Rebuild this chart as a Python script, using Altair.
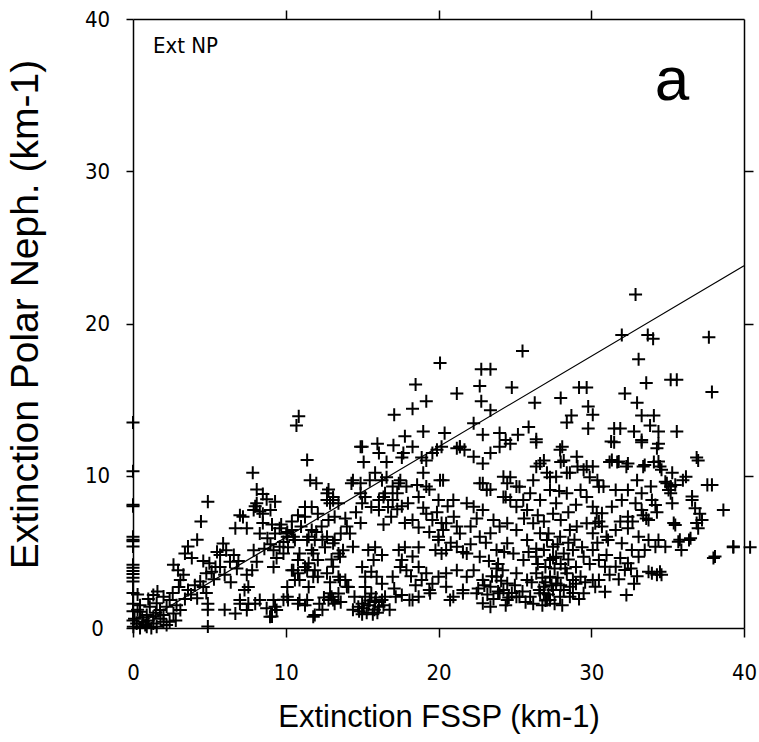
import altair as alt
import pandas as pd

# ---- data (x = Extinction FSSP, y = Extinction Polar Neph.) ----
pts_upper = [(20.1,17.4),(18.5,16.0),(19.2,14.9),(18.3,14.4),(17.1,14.0),(10.85,13.9),(10.7,13.3),(19.0,12.9),
 (32.9,21.9),(32.0,19.25),(33.7,19.25),(34.05,19.0),(37.7,19.1),(33.1,17.65),(25.5,18.2),(22.8,17.0),(23.4,17.0),
 (33.6,16.1),(35.2,16.3),(35.6,16.3),(22.7,15.9),(24.8,15.8),(21.2,15.4),(29.2,15.8),(29.7,15.8),(37.9,15.5),
 (28.0,15.1),(26.3,14.8),(32.2,15.4),(33.0,14.8),(22.8,14.9),(23.4,14.3),(29.8,14.55),(30.1,14.0),(28.7,13.95),
 (28.4,13.5),(33.3,13.95),(34.1,13.95),(22.3,13.45),(29.8,13.1),(31.5,13.1),(31.9,13.1),(31.3,12.25),(32.8,12.9),
 (33.3,12.35),(33.85,13.3),(34.4,12.9),(34.4,12.1),(35.6,12.9),(20.4,12.8),(22.9,12.7),(24.0,12.8),(24.4,12.35),
 (25.2,12.7),(25.9,13.2),(26.4,12.4),(28.1,11.9),(21.4,11.9)]

pts_right = [(37.0,11.0),(37.9,9.4),(38.65,7.75),(39.3,5.35),(40.4,5.3),(38.1,4.7),(36.9,6.9),(37.1,7.5),
 (36.6,8.4),(36.0,9.7),(35.2,9.3),(35.4,6.9),(35.8,5.8),(36.5,5.9)]

pts_mid = [(14.9,11.9),(16.0,12.1),(17.05,12.0),(17.8,12.6),(15.1,10.9),(16.6,10.9),(17.7,11.5),(19.2,11.0),
 (19.9,11.7),(21.2,11.8),(21.7,11.7),(14.4,9.7),(15.5,9.7),(16.6,9.9),(17.5,9.7),(14.9,8.85),(16.4,8.6),
 (17.3,8.85),(17.9,9.3),(19.0,10.2),(20.1,9.7),(19.2,9.3),(22.9,9.5),(23.4,9.1),(24.7,9.9),(25.1,9.3),
 (24.25,8.6),(25.55,8.4),(26.4,10.6),(26.9,11.0),(28.0,10.9),(27.3,9.9),(28.4,10.2),(29.1,10.6),(29.5,10.4),
 (29.9,9.9),(30.4,9.7),(30.8,9.3),(31.2,10.9),(31.7,10.9),(32.3,10.6),(33.0,9.7),(33.4,10.6),(34.1,10.9),
 (34.5,10.6),(33.9,9.3),(34.95,9.5),(35.2,8.85)]

pts_left = [(7.84,10.2),(8.1,9.1),(8.5,8.8),(8.75,8.45),(9.3,8.3),(4.9,8.3),(4.45,7.0),(8.0,8.0),(8.3,7.65),
 (7.0,7.4),(7.2,7.3),(8.5,6.9),(9.1,6.8),(9.6,6.55),(10.1,6.3),(6.7,6.55),(7.45,6.55),(4.2,5.8),(3.6,5.35),
 (3.4,4.9),(3.85,4.6),(5.9,5.55),(6.1,5.1),(5.7,4.8),(6.6,4.8),(6.35,4.35),(5.7,4.0),(5.0,4.25),(5.4,4.0),
 (5.15,3.7),(2.65,4.15),(2.95,3.8),(3.3,3.5),(3.1,3.15),(4.4,3.05),(4.6,2.7),(4.05,2.8),(4.8,2.3),(4.2,1.95),
 (4.9,1.6),(4.9,1.2),(4.9,0.1),(6.0,1.2),(6.7,0.95),(7.0,1.6),(7.55,1.6),(8.0,1.6),(8.75,1.3),(9.1,0.75),
 (9.3,1.4),(9.85,1.85),(10.1,2.05),(7.45,3.5),(7.55,2.7),(7.3,2.5),(7.9,5.1),(8.1,4.35),(7.8,3.8),(9.2,5.1),
 (9.4,4.6),(9.85,4.9),(9.2,4.0),(10.1,6.0),(9.85,5.65),
 (8.1,8.2),(7.9,7.75),(8.5,7.5),(9.0,7.75),(10.5,6.0),(11.4,5.78),(9.6,5.34),(10.9,4.9),(11.8,4.9),(12.7,6.0),
 (13.1,5.56),(14.0,6.66),(14.2,6.2),(14.4,5.34),(13.55,4.68),(10.5,3.8),(10.9,3.15),(10.1,2.7),(11.4,3.8),
 (11.8,3.37),(12.7,3.59),(13.1,4.03),(13.55,3.15),(14.0,2.71),(12.9,2.28),(13.1,1.84),(7.0,1.84),(7.45,1.18),
 (8.3,1.84),(9.2,1.84),(8.97,0.74),(9.4,1.18),(10.9,1.84),(11.4,1.84),(11.8,0.74),(11.4,11.04),(11.6,9.7),
 (12.0,9.5),(12.7,8.85),(13.1,8.4),(12.9,8.2)]

pts_origin = [(1.33,2.17),(2.0,2.06),(1.55,1.62),(2.4,1.84),(2.2,1.4),(2.85,1.5),(3.1,1.18),(1.77,1.18),
 (1.1,1.4),(0.46,1.5),(0.46,1.07),(0.9,0.85),(1.33,0.74),(2.0,0.85),(2.65,0.96),(0.68,0.41),(1.33,0.3),
 (0.24,0.3),(2.0,0.41),(0.02,0.09),(0.46,0.0),(0.9,0.09),(1.55,0.09),(2.4,0.41),(0.1,0.6),(0.3,1.2),(0.8,0.2),
 (1.2,0.0),(1.8,0.6),(0.6,0.7),
 (0,13.5),(0,10.3),(0,8.1),(0,8.0),(0,6.0),(0,5.8),(0,5.7),(0,5.35),(0,4.15),(0,3.95),(0,3.75),(0,3.55),
 (0,3.3),(0,3.05),(0,2.3),(0,1.6),(0,1.1),(0,0.5)]

pts_center = [(15.0,11.9),(16.1,11.5),(17.6,11.2),(18.3,11.9),(18.9,11.2),(19.6,11.5),(20.2,11.9),
 (12.8,9.1),(13.1,8.6),(13.45,8.2),(12.7,8.4),(14.3,9.5),(14.9,9.5),(15.2,8.6),(15.0,8.2),
 (15.85,10.2),(16.3,9.7),(17.0,9.3),(17.4,9.5),(16.5,8.85),(16.1,8.4),(17.0,8.4),(16.7,7.95),(16.1,7.75),(15.6,7.95),
 (18.7,8.6),(19.4,9.1),(20.0,8.4),(19.2,7.5),(19.6,7.1),(20.2,6.9),(20.0,6.0),(18.7,6.6),(18.3,7.1),(17.8,6.9),
 (11.26,7.95),(11.7,7.95),(11.26,7.3),(12.1,7.5),(12.8,7.1),(13.2,7.3),(12.35,6.66),(11.7,6.44),(11.0,6.66),
 (10.4,6.44),(10.05,6.2),(10.6,5.78),(10.15,5.3),(11.5,6.0),(11.9,5.78),(11.7,5.12),(12.57,5.3),(13.2,5.78),
 (13.45,4.9),(13.75,5.1),(12.1,4.47),(11.5,4.25),(10.8,4.47),(10.4,3.8),(10.8,3.6),(11.26,4.0),(11.9,3.8),
 (12.1,3.36),(10.6,3.15),(11.5,2.7),(13.9,3.15),(14.1,2.7),(13.45,3.36),(10.15,1.84),(10.8,1.6),(11.26,1.5),
 (11.9,0.85),(13.0,2.05),(13.2,1.6),(12.8,1.84),(13.45,2.27),(15.4,5.12),(15.85,5.3),(15.75,4.47),(16.3,4.8),
 (15.0,4.0),(15.2,3.36),(15.6,3.7),(15.95,3.36),(15.2,2.7),(17.0,3.36),(16.3,2.9),(14.5,2.05),(15.0,1.6),
 (15.4,1.5),(15.85,1.7),(16.3,1.84),(15.2,2.05),(15.6,2.27),(14.75,1.4),(16.1,1.4),(16.5,2.05),(17.2,2.05),
 (17.6,2.16),(18.3,1.84),(18.7,2.05),(17.4,5.12),(17.8,5.3),(18.3,4.7),(17.6,4.47),(18.7,4.0),(19.2,3.6),
 (19.6,2.9),(19.4,2.5),(20.0,3.36),(18.9,3.15),(19.8,5.12),(20.2,4.9),(20.0,5.78),(18.7,5.3),(14.8,1.1),
 (15.3,1.0),(15.8,1.2),(15.0,0.9)]

pts_lower_mid = [(21.4,11.9),(22.3,11.25),(22.9,10.8),(23.4,11.5),(24.0,11.9),(24.7,12.1),(26.4,12.2),(27.96,11.7),
 (28.2,11.0),(29.05,11.25),(29.7,10.6),(30.1,10.6),(26.65,10.8),(27.1,10.2),(26.2,9.7),(27.7,9.94),(28.6,10.2),
 (20.3,9.7),(22.7,9.5),(23.16,9.06),(24.25,9.94),(24.7,8.4),(25.1,7.97),(25.8,7.75),(24.5,9.5),(25.3,9.28),
 (26.0,8.85),(26.65,8.4),(27.3,9.06),(27.7,8.2),(28.4,8.85),(29.3,9.06),(29.7,8.6),(30.1,7.97),
 (20.97,8.4),(21.85,8.2),(22.3,7.97),(22.9,7.75),(23.6,7.1),(24.0,6.66),(23.4,6.22),(22.7,6.0),(22.1,6.66),
 (21.2,6.66),(20.3,6.44),(20.5,6.88),(24.5,6.88),(25.1,6.44),(25.8,5.78),(26.2,6.88),(26.65,6.22),(27.1,5.78),
 (27.5,5.34),(27.96,6.0),(28.6,6.44),(29.05,6.66),(29.7,6.88),(30.1,6.22),(30.36,7.53),
 (20.5,5.12),(21.2,5.34),(21.85,4.9),(22.7,4.68),(23.8,5.12),(24.5,5.56),(24.9,4.9),(25.56,4.47),(26.4,4.68),
 (26.9,5.12),(27.3,4.47),(27.7,4.68),(28.2,4.9),(28.8,5.12),(29.5,4.68),(30.1,5.12),
 (20.5,3.59),(21.2,3.8),(21.85,3.37),(22.3,3.8),(22.9,3.15),(23.4,2.71),(23.8,3.37),(24.5,2.93),(25.1,3.59),
 (25.8,3.15),(26.4,3.59),(26.9,2.71),(27.3,3.37),(27.7,2.93),(28.4,3.59),(28.8,3.15),(29.3,3.37),(30.1,3.15),
 (20.5,2.71),(20.97,2.06),(21.6,2.5),(22.5,2.28),(22.9,1.62),(23.4,1.4),(24.0,2.28),(24.5,1.84),(25.3,2.06),
 (26.0,2.06),(26.65,2.28),(27.1,1.84),(27.5,2.5),(27.96,2.06),(28.6,2.71),
 (27.0,4.0),(27.6,3.9),(28.0,4.2),(26.8,3.3),(27.4,2.8),(27.8,5.5),(26.4,5.2),(28.5,5.6),(27.2,6.2),
 (23.5,3.4),(24.2,3.8),(23.9,2.4),(24.8,2.3),(23.2,2.2),(24.4,8.6),
 (18.1,1.84),(19.45,2.28),(20.76,1.84),(21.6,2.28),(24.25,2.5),(25.1,2.06),(26.9,2.28),(27.3,1.84),(28.2,2.5),
 (28.6,2.06),(29.5,2.28),(27.0,1.8)]

pts_lower_right = [(31.35,11.04),(31.8,10.93),(32.4,10.8),(33.5,10.7),(34.4,10.93),(34.6,10.4),(35.3,10.2),
 (36.2,9.94),(35.5,9.4),(35.06,9.06),(34.85,9.6),(36.6,8.63),(36.8,7.86),(37.25,7.09),(37.0,6.55),(35.5,6.77),
 (35.3,8.19),(34.2,8.08),(30.5,9.28),(31.6,9.06),(32.4,9.06),(33.3,8.85),(33.97,8.4),(32.9,8.19),(32.0,8.4),
 (31.35,7.97),(30.7,7.53),(32.4,7.31),(33.3,7.75),(33.75,7.09),(30.26,6.88),(30.7,6.66),(31.6,6.44),(32.4,6.55),
 (33.1,6.0),(33.75,5.78),(34.4,5.78),(34.85,5.34),(35.7,5.67),(36.4,5.78),(35.9,5.12),(31.1,5.78),(32.0,5.56),
 (32.66,5.12),(33.5,5.12),(34.2,5.34),(33.1,4.68),(32.4,4.25),(31.6,4.03),(30.9,4.03),(30.5,4.47),(32.2,3.81),
 (33.75,3.7),(33.97,3.59),(30.5,3.15),(30.26,2.71),(30.9,2.38),(32.3,2.17),(31.5,12.2),(33.3,12.2),(34.3,11.8),
 (36.9,11.2),(37.6,9.4),(38.0,4.6),(39.3,5.3)]

pts_dense = [(26.2,1.6),(26.6,2.5),(27.0,3.0),(27.2,2.2),(27.6,1.6),(27.8,3.3),(28.0,2.8),(28.3,3.9),(28.5,4.5),
 (28.8,2.3),(29.0,4.0),(29.2,1.9),(29.6,3.0),(26.5,4.2),(26.1,3.0),(27.5,4.6),(28.9,5.8),(29.4,5.3),(28.1,1.5),
 (26.8,1.5),(29.9,4.2),(29.0,2.9),
 (23.0,2.8),(23.6,1.9),(24.1,3.1),(24.6,2.0),(25.0,2.8),(25.5,2.4),(25.7,1.7),(24.4,1.5),(23.8,3.9),(22.6,2.6),
 (15.1,1.3),(15.5,1.8),(16.0,1.0),(16.4,1.5),(15.7,0.9),(16.8,1.2),(14.4,1.2),(15.9,2.0),
 (12.2,1.6),(12.5,2.0),(12.4,1.2),(13.6,1.7),
 (8.3,6.2),(8.8,5.9),(9.3,6.2),(9.0,5.5),(8.6,5.2),(9.7,6.8),(10.4,7.0),(10.8,7.4),
 (4.8,3.6),(5.3,3.2),(6.0,3.5),(6.4,3.0),(6.8,3.9),(4.6,4.4),(5.5,5.0),(6.9,4.4),
 (31.2,3.5),(31.8,3.2),(32.6,3.9),(33.0,3.4),(31.0,4.8),(31.9,4.6),(32.8,2.9),
 (33.4,7.4),(33.6,7.2),(32.7,7.0),(31.9,7.0),(34.3,7.6),(34.5,3.7),(34.3,3.5),(34.6,3.5),
 (20.8,5.6),(21.4,6.2),(21.6,5.0),(22.1,5.5),(22.5,7.2),(21.0,7.3),
 (16.9,7.3),(17.3,7.8),(16.4,6.8),(17.6,8.0),(18.0,8.2),(18.6,9.4),
 (17.9,3.8),(18.2,3.4),(17.5,4.0),(18.5,2.8),(17.1,2.6),
 (1.0,1.9),(1.6,2.4),(2.6,2.3),(3.4,1.9),(3.6,2.5),(2.2,0.2),(2.8,0.5),(1.0,0.5),(1.5,1.0),(0.3,2.2),(3.0,2.7),(3.8,2.2),
 (12.0,6.3),(12.4,5.8),(13.6,6.2),(13.9,7.2),(14.6,7.6),(14.9,6.9),(13.0,4.5),(12.9,3.0),
 (19.0,7.9),(19.9,7.6),(20.6,8.0),(19.4,6.3),
 (23.3,4.4),(23.9,4.2),(24.3,5.0),(23.1,5.6),(25.9,5.0),
 (30.4,5.6),(31.0,6.0),(30.5,7.0),
 (25.6,7.2),(26.5,7.4),(26.9,7.0),(27.5,7.5),(28.0,7.1),(28.5,7.6),(29.0,8.1),(27.9,9.0)]

groups = [pts_upper, pts_right, pts_mid, pts_left, pts_origin, pts_center, pts_lower_mid,
          pts_lower_right, pts_dense]
fssp = [p[0] for g in groups for p in g]
neph = [p[1] for g in groups for p in g]

# fitted line end points
line_fssp = [0, 40]
line_neph = [0, 23.8]

x_ticks = [0, 10, 20, 30, 40]
y_ticks = [0, 10, 20, 30, 40]
inner_ticks = [10, 20, 30]

pts = pd.DataFrame({"fssp": fssp, "neph": neph})
line_df = pd.DataFrame({"fssp": line_fssp, "neph": line_neph})

NARROW = "Liberation Sans Narrow, Arial Narrow, DejaVu Sans Condensed, sans-serif"
SANS = "Liberation Sans, Arial, sans-serif"

xs = alt.Scale(domain=[0, 40], nice=False, zero=False)
ys = alt.Scale(domain=[0, 40], nice=False, zero=False)

common_axis = dict(grid=False, domainColor="black", domainWidth=1.5, tickColor="black",
                   tickWidth=1.5, labelColor="black", labelFont=NARROW, labelFontSize=22,
                   labelFlush=False, labelOverlap=False)

points = alt.Chart(pts).mark_point(
    shape="M-1,0L1,0M0,-1L0,1", size=170, filled=False, color="black",
    strokeWidth=2.0, opacity=1, clip=False
).encode(
    x=alt.X("fssp:Q", scale=xs, axis=alt.Axis(
        orient="bottom", values=x_ticks, tickSize=9, labelPadding=35,
        labelBaseline="middle", labelAlign="center",
        title="Extinction FSSP (km-1)", titleFont=SANS, titleFontSize=31,
        titleFontWeight="normal", titleColor="black", titleY=89, titleBaseline="middle",
        **common_axis)),
    y=alt.Y("neph:Q", scale=ys, axis=alt.Axis(
        orient="left", values=y_ticks, tickSize=7, labelPadding=29,
        labelAlign="center", labelBaseline="middle", labelAngle=0,
        title="Extinction Polar Neph. (km-1)", titleFont=SANS, titleFontSize=39,
        titleFontWeight="normal", titleColor="black", titleX=-108, titleY=295,
        titleAngle=270, titleAlign="center", titleBaseline="middle",
        **common_axis)),
)

line = alt.Chart(line_df).mark_line(color="black", strokeWidth=1.2, clip=False).encode(
    x=alt.X("fssp:Q", scale=xs, axis=alt.Axis(
        orient="top", values=inner_ticks, tickSize=9, labels=False, title=None,
        grid=False, domainColor="black", domainWidth=1.5, tickColor="black", tickWidth=1.5)),
    y=alt.Y("neph:Q", scale=ys, axis=alt.Axis(
        orient="right", values=inner_ticks, tickSize=9, labels=False, title=None,
        grid=False, domainColor="black", domainWidth=1.5, tickColor="black", tickWidth=1.5)),
)

label_np = alt.Chart(pd.DataFrame({"t": ["Ext NP"]})).mark_text(
    align="left", baseline="middle", font=NARROW, fontSize=22, color="black"
).encode(text="t:N", x=alt.value(20), y=alt.value(27))

label_a = alt.Chart(pd.DataFrame({"t": ["a"]})).mark_text(
    align="center", baseline="alphabetic", font=SANS, fontSize=62, color="black"
).encode(text="t:N", x=alt.value(539), y=alt.value(81))

chart = alt.layer(points, line, label_np, label_a).resolve_axis(
    x="independent", y="independent"
).properties(
    width=611, height=609,
    autosize=alt.AutoSizeParams(type="none"),
    padding={"left": 133, "top": 19, "right": 15, "bottom": 114},
    background="white",
).configure_view(stroke=None)

chart.save("out.html", embed_options={"renderer": "svg", "actions": False})
